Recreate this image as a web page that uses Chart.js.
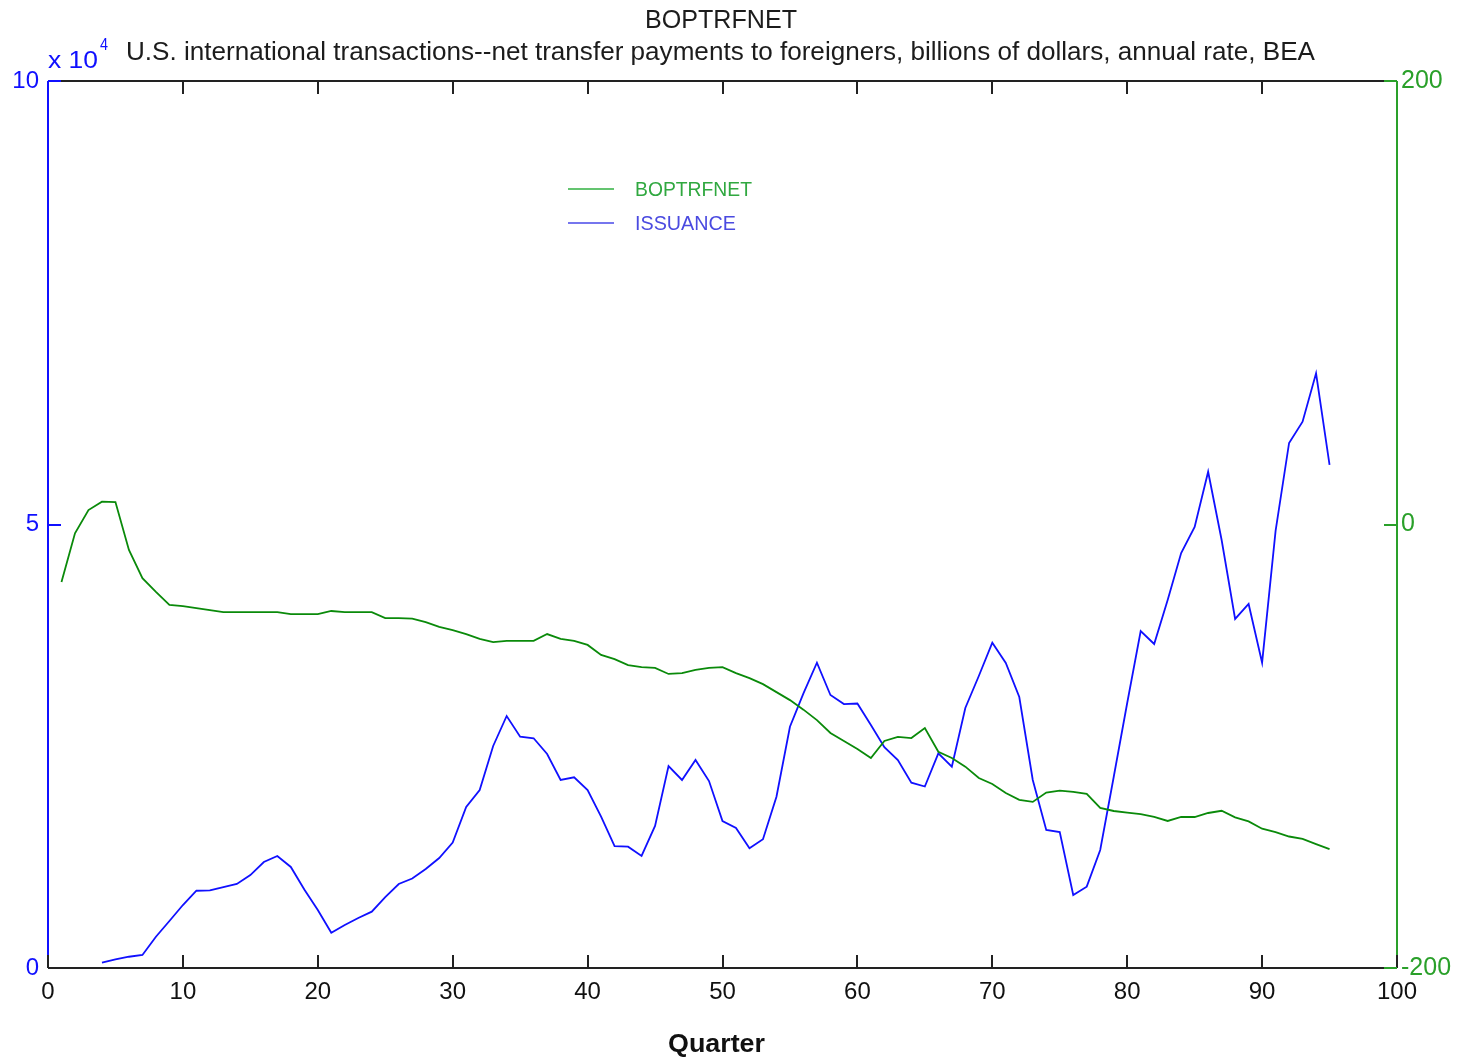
<!DOCTYPE html>
<html>
<head>
<meta charset="utf-8">
<title>BOPTRFNET</title>
<script src="https://cdn.jsdelivr.net/npm/chart.js@4/dist/chart.umd.min.js"></script>
<style>
  html, body { margin: 0; padding: 0; background: #ffffff; }
  #wrap { width: 1461px; height: 1058px; position: relative; }
</style>
</head>
<body>
<div id="wrap"><canvas id="c" width="1461" height="1058"></canvas></div>
<script>
// Quarter index (x axis)
const quarters = [
  1, 2, 3, 4, 5, 6, 7, 8, 9, 10, 11, 12, 13, 14, 15, 16, 17, 18, 19, 20,
  21, 22, 23, 24, 25, 26, 27, 28, 29, 30, 31, 32, 33, 34, 35, 36, 37, 38, 39, 40,
  41, 42, 43, 44, 45, 46, 47, 48, 49, 50, 51, 52, 53, 54, 55, 56, 57, 58, 59, 60,
  61, 62, 63, 64, 65, 66, 67, 68, 69, 70, 71, 72, 73, 74, 75, 76, 77, 78, 79, 80,
  81, 82, 83, 84, 85, 86, 87, 88, 89, 90, 91, 92, 93, 94, 95
];

// Net transfer payments to foreigners, billions of dollars (right axis)
const boptrfnet = [
  -25.9, -4.0, 6.5, 10.3, 10.1, -11.5, -24.2, -30.4, -36.3, -36.8,
  -37.7, -38.6, -39.5, -39.5, -39.5, -39.5, -39.5, -40.4, -40.4, -40.4,
  -39.0, -39.5, -39.5, -39.5, -42.2, -42.2, -42.4, -44.0, -46.2, -47.6,
  -49.4, -51.6, -53.0, -52.5, -52.5, -52.5, -49.4, -51.6, -52.5, -54.3,
  -58.8, -60.7, -63.4, -64.3, -64.7, -67.4, -67.0, -65.6, -64.7, -64.3,
  -67.0, -69.3, -72.0, -75.6, -79.2, -83.5, -88.2, -94.0, -97.6, -101.2,
  -105.3, -97.6, -95.8, -96.3, -91.8, -102.5, -105.3, -109.2, -114.3, -117.0,
  -121.1, -124.2, -125.1, -120.9, -120.0, -120.6, -121.5, -127.8, -129.2, -129.9,
  -130.6, -131.9, -133.7, -131.9, -131.9, -130.1, -129.1, -132.1, -133.9, -137.2,
  -138.7, -140.7, -141.8, -144.1, -146.4
];

// Issuance (left axis, shown in units of 10^4)
const issuance = [
  null, null, null, 600, 960, 1270, 1470, 3530, 5300, 7100,
  8710, 8740, 9130, 9470, 10480, 11950, 12630, 11390, 8850, 6540,
  3980, 4850, 5640, 6350, 8000, 9470, 10090, 11160, 12400, 14150,
  18150, 20070, 25030, 28410, 26080, 25900, 24130, 21200, 21500, 20070,
  17060, 13750, 13680, 12630, 16010, 22770, 21200, 23450, 21080, 16570,
  15780, 13500, 14510, 19310, 27200, 30970, 34420, 30780, 29760, 29820,
  27400, 24900, 23450, 20890, 20460, 24200, 22690, 29310, 32920, 36670,
  34390, 30550, 21200, 15560, 15330, 8230, 9170, 13300, 21530, 29880,
  37990, 36530, 41490, 46790, 49720, 55950, 48250, 39350, 41040, 34420,
  49270, 59190, 61590, 67050, 56710
];

const xTickValues = [0, 10, 20, 30, 40, 50, 60, 70, 80, 90, 100];
const leftTickValues = [0, 50000, 100000];
const rightTickValues = [-200, 0, 200];

const titleText = 'BOPTRFNET';
const subtitleText = 'U.S. international transactions--net transfer payments to foreigners, billions of dollars, annual rate, BEA';
const xAxisTitle = 'Quarter';
const seriesNames = ['BOPTRFNET', 'ISSUANCE'];

const BLUE = '#1010ff';
const GREEN = '#0a8a0a';
const AXIS_GREEN = '#2aa02a';
const FONT = '"Liberation Sans", Arial, Helvetica, sans-serif';

// Draw text stretched/condensed horizontally to span a given width
function fittedText(ctx, text, left, width, cy, size, color, weight) {
  ctx.save();
  ctx.font = (weight || 'normal') + ' ' + size + 'px ' + FONT;
  ctx.fillStyle = color;
  ctx.textBaseline = 'middle';
  ctx.textAlign = 'left';
  const w = ctx.measureText(text).width;
  ctx.translate(left, cy);
  ctx.scale(width / w, 1);
  ctx.fillText(text, 0, 0);
  ctx.restore();
}

const framePlugin = {
  id: 'frame',
  afterDraw(chart) {
    const ctx = chart.ctx;
    const a = chart.chartArea;
    const sx = chart.scales.x;
    const yl = chart.scales.y;
    const yr = chart.scales.y2;
    ctx.save();
    ctx.lineCap = 'butt';
    ctx.lineWidth = 2;

    // top and bottom borders
    ctx.strokeStyle = '#222222';
    ctx.beginPath();
    ctx.moveTo(a.left, a.top); ctx.lineTo(a.right, a.top);
    ctx.moveTo(a.left, a.bottom); ctx.lineTo(a.right, a.bottom);
    ctx.stroke();

    // left (blue) and right (green) axes
    ctx.strokeStyle = BLUE;
    ctx.beginPath(); ctx.moveTo(a.left, a.top); ctx.lineTo(a.left, a.bottom); ctx.stroke();
    ctx.strokeStyle = AXIS_GREEN;
    ctx.beginPath(); ctx.moveTo(a.right, a.top); ctx.lineTo(a.right, a.bottom); ctx.stroke();

    // x tick marks pointing inward, top and bottom
    ctx.strokeStyle = '#222222';
    ctx.beginPath();
    xTickValues.forEach(v => {
      const px = Math.round(sx.getPixelForValue(v));
      ctx.moveTo(px, a.bottom); ctx.lineTo(px, a.bottom - 13);
      if (v > 0 && v < 100) { ctx.moveTo(px, a.top); ctx.lineTo(px, a.top + 13); }
    });
    ctx.stroke();

    // left y ticks
    ctx.strokeStyle = BLUE;
    ctx.beginPath();
    leftTickValues.filter(v => v > 0).forEach(v => {
      const py = Math.round(yl.getPixelForValue(v));
      ctx.moveTo(a.left, py); ctx.lineTo(a.left + 13, py);
    });
    ctx.stroke();

    // right y ticks
    ctx.strokeStyle = AXIS_GREEN;
    ctx.beginPath();
    rightTickValues.forEach(v => {
      const py = Math.round(yr.getPixelForValue(v));
      ctx.moveTo(a.right, py); ctx.lineTo(a.right - 13, py);
    });
    ctx.stroke();

    // titles
    fittedText(ctx, titleText, 645, 152, 21, 25, '#1c1c1c');
    fittedText(ctx, subtitleText, 126, 1189, 53, 25, '#1c1c1c');

    // exponent marker for the left axis
    fittedText(ctx, 'x 10', 48, 50, 61, 24, BLUE);
    fittedText(ctx, '4', 100, 8, 46, 16, BLUE);

    // x axis title
    fittedText(ctx, xAxisTitle, 668, 97, 1045, 25, '#111111', 'bold');

    // legend
    const legendRows = [
      { name: seriesNames[0], line: '#30b040', text: '#30a840', y: 189, w: 117 },
      { name: seriesNames[1], line: '#4848e8', text: '#4a4ae0', y: 223, w: 101 }
    ];
    legendRows.forEach(r => {
      ctx.strokeStyle = r.line;
      ctx.lineWidth = 1.5;
      ctx.beginPath(); ctx.moveTo(568, r.y); ctx.lineTo(614, r.y); ctx.stroke();
      fittedText(ctx, r.name, 635, r.w, r.y + 1, 21, r.text);
    });
    ctx.restore();
  }
};

const greenPoints = quarters.map((q, i) => ({ x: q, y: boptrfnet[i] }));
const bluePoints = quarters.map((q, i) => ({ x: q, y: issuance[i] }));

new Chart(document.getElementById('c'), {
  type: 'line',
  data: {
    datasets: [
      {
        label: seriesNames[0],
        data: greenPoints,
        yAxisID: 'y2',
        borderColor: GREEN,
        borderWidth: 1.8,
        pointRadius: 0,
        tension: 0,
        fill: false
      },
      {
        label: seriesNames[1],
        data: bluePoints,
        yAxisID: 'y',
        borderColor: BLUE,
        borderWidth: 1.8,
        pointRadius: 0,
        tension: 0,
        fill: false,
        spanGaps: false
      }
    ]
  },
  options: {
    responsive: false,
    animation: false,
    devicePixelRatio: 1,
    layout: { padding: { top: 81, left: 0, right: 0, bottom: 0 } },
    plugins: {
      legend: { display: false },
      title: { display: false },
      tooltip: { enabled: false }
    },
    scales: {
      x: {
        type: 'linear',
        position: 'bottom',
        min: 0,
        max: 100,
        afterBuildTicks: s => { s.ticks = xTickValues.map(v => ({ value: v })); },
        ticks: { color: '#111111', font: { family: FONT, size: 24 }, padding: 10, maxRotation: 0 },
        grid: { display: false, drawTicks: false },
        border: { display: false },
        title: { display: false },
        afterFit: s => { s.height = 90; }
      },
      y: {
        type: 'linear',
        position: 'left',
        min: 0,
        max: 100000,
        afterBuildTicks: s => { s.ticks = leftTickValues.map(v => ({ value: v })); },
        ticks: {
          color: BLUE,
          font: { family: FONT, size: 24 },
          padding: 9,
          callback: v => String(v / 10000)
        },
        grid: { display: false, drawTicks: false },
        border: { display: false },
        afterFit: s => { s.width = 48; }
      },
      y2: {
        type: 'linear',
        position: 'right',
        min: -200,
        max: 200,
        afterBuildTicks: s => { s.ticks = rightTickValues.map(v => ({ value: v })); },
        ticks: { color: AXIS_GREEN, font: { family: FONT, size: 25 }, padding: 4 },
        grid: { display: false, drawTicks: false },
        border: { display: false },
        afterFit: s => { s.width = 64; }
      }
    }
  },
  plugins: [framePlugin]
});
</script>
</body>
</html>
